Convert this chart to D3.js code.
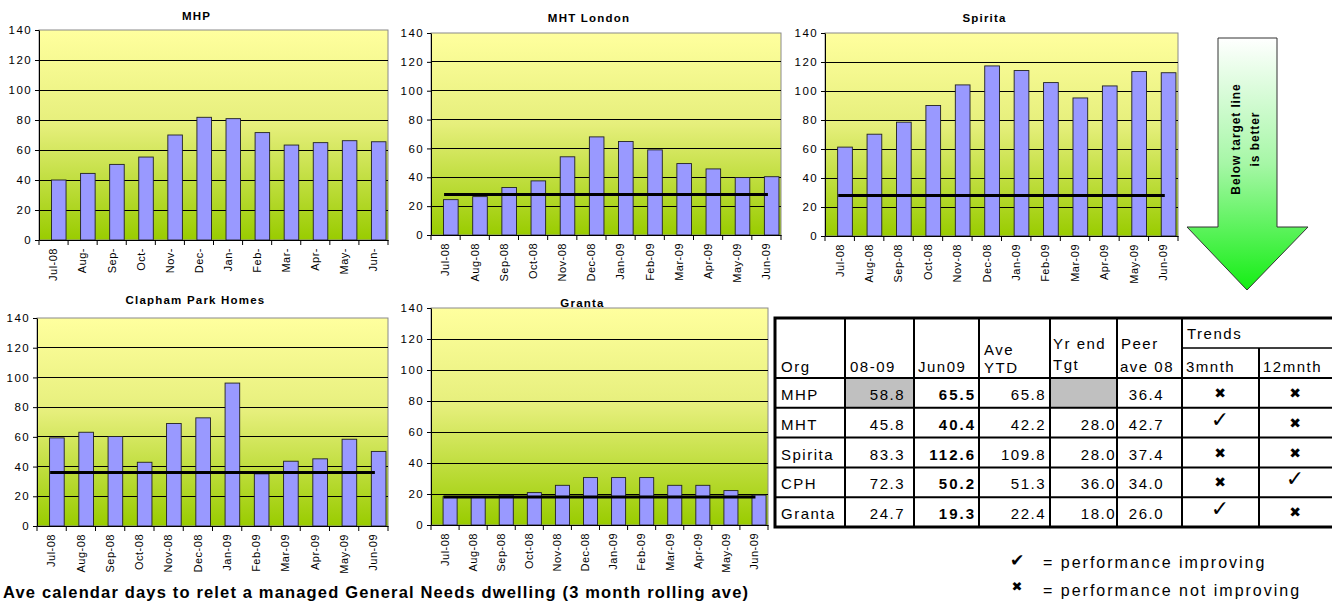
<!DOCTYPE html>
<html lang="en">
<head>
<meta charset="UTF-8">
<title>Relet days</title>
<style>
  body { margin: 0; background: #fff; }
  svg text { font-family: "Liberation Sans", Arial, sans-serif; fill: #000; }
</style>
</head>
<body>
<div class="container"></div>
<script src="https://cdn.jsdelivr.net/npm/d3@7/dist/d3.min.js"></script>
<script>
// Data
const months = ["Jul-08","Aug-08","Sep-08","Oct-08","Nov-08","Dec-08","Jan-09","Feb-09","Mar-09","Apr-09","May-09","Jun-09"]
const mhpLabels = ["Jul-08","Aug-","Sep-","Oct-","Nov-","Dec-","Jan-","Feb-","Mar-","Apr-","May-","Jun-"]
const yTicks = [0,20,40,60,80,100,120,140]

const mhpValues     = [40, 44.4, 50.4, 55.3, 70, 81.8, 80.9, 71.6, 63.3, 64.9, 66.2, 65.5]
const mhtValues     = [24.5, 26.6, 32.9, 37.5, 54.2, 68, 64.8, 59, 49.5, 45.8, 39.8, 40.4]
const spiritaValues = [61.3, 70.2, 78.5, 90, 104.2, 117.3, 114.1, 105.8, 95.2, 103.5, 113.4, 112.6]
const cphValues     = [59.3, 63.1, 60.2, 42.9, 69, 72.8, 96.2, 35.1, 43.6, 45.2, 58.4, 50.2]
const grantaValues  = [18.3, 17.9, 19.2, 20.9, 25.6, 30.6, 30.6, 30.6, 25.6, 25.6, 22.2, 19.3]

const chartTitles = ["MHP", "MHT London", "Spirita", "Clapham Park Homes", "Granta"]
const targetValues = [null, 28, 28, 36, 18]

// table data
const tableOrgs  = ["MHP","MHT","Spirita","CPH","Granta"]
const col0809    = ["58.8","45.8","83.3","72.3","24.7"]
const colJun09   = ["65.5","40.4","112.6","50.2","19.3"]
const colAveYtd  = ["65.8","42.2","109.8","51.3","22.4"]
const colYrTgt   = [null,"28.0","28.0","36.0","18.0"]
const colPeer    = ["36.4","42.7","37.4","34.0","26.0"]
const trend3     = [false,true,false,false,true]
const trend12    = [false,false,false,true,false]

const width = 1332
const height = 605

const svg = d3.select('.container')
    .append("svg")
    .attr("width", width)
    .attr("height", height)

const defs = svg.append("defs")

const bg = defs.append("linearGradient")
    .attr("id", "plotBg")
    .attr("x1", 0).attr("y1", 0).attr("x2", 0).attr("y2", 1)
bg.append("stop").attr("offset", "0%").attr("stop-color", "#ffff9e")
bg.append("stop").attr("offset", "45%").attr("stop-color", "#e6ef7c")
bg.append("stop").attr("offset", "100%").attr("stop-color", "#99cc00")

const arrowBg = defs.append("linearGradient")
    .attr("id", "arrowBg")
    .attr("x1", 0).attr("y1", 0).attr("x2", 0).attr("y2", 1)
arrowBg.append("stop").attr("offset", "0%").attr("stop-color", "#ffffff")
arrowBg.append("stop").attr("offset", "50%").attr("stop-color", "#a6f7a6")
arrowBg.append("stop").attr("offset", "100%").attr("stop-color", "#14ee14")

// plot boxes: [left, right, top, bottom], title baseline
const charts = [
    { title: chartTitles[0], labels: mhpLabels, values: mhpValues, target: targetValues[0], box: [39, 388, 30, 240], titleY: 20 },
    { title: chartTitles[1], labels: months, values: mhtValues, target: targetValues[1], box: [431, 781, 33, 235], titleY: 22 },
    { title: chartTitles[2], labels: months, values: spiritaValues, target: targetValues[2], box: [825, 1178, 33, 236], titleY: 22 },
    { title: chartTitles[3], labels: months, values: cphValues, target: targetValues[3], box: [37, 388, 318, 526], titleY: 304 },
    { title: chartTitles[4], labels: months, values: grantaValues, target: targetValues[4], box: [431, 768, 308, 525], titleY: 307 }
]

charts.forEach(drawChart)

function drawChart(c) {
    const [x0, x1, y0, y1] = c.box
    const g = svg.append("g").attr("class", "chart")

    const xScale = d3.scaleBand()
        .domain(c.labels)
        .range([x0, x1])
        .paddingInner(0).paddingOuter(0)
    const yScale = d3.scaleLinear()
        .domain([0, 140])
        .range([y1, y0])

    // background + border
    g.append("rect")
        .attr("x", x0).attr("y", y0)
        .attr("width", x1 - x0).attr("height", y1 - y0)
        .attr("fill", "url(#plotBg)")
        .attr("stroke", "#8a8a8a")
        .attr("stroke-width", 1)

    // grid lines
    g.append("g").selectAll("line")
        .data(yTicks.filter(d => d > 0 && d < 140))
        .join("line")
        .attr("x1", x0).attr("x2", x1)
        .attr("y1", d => yScale(d)).attr("y2", d => yScale(d))
        .attr("stroke", "#000")
        .attr("stroke-width", 1)
        .attr("shape-rendering", "crispEdges")

    // bars
    const bw = xScale.bandwidth()
    g.append("g").selectAll("rect")
        .data(c.values)
        .join("rect")
        .attr("x", (d, i) => xScale(c.labels[i]) + bw * 0.43)
        .attr("width", bw * 0.5)
        .attr("y", d => yScale(d))
        .attr("height", d => yScale(0) - yScale(d))
        .attr("fill", "#9999ff")
        .attr("stroke", "#222")
        .attr("stroke-width", 0.9)

    // target line
    if (c.target != null) {
        const first = c.labels[0], last = c.labels[c.labels.length - 1]
        g.append("line")
            .attr("x1", xScale(first) + bw / 2)
            .attr("x2", xScale(last) + bw / 2)
            .attr("y1", yScale(c.target)).attr("y2", yScale(c.target))
            .attr("stroke", "#000")
            .attr("stroke-width", 3)
            .attr("stroke-linecap", "square")
    }

    // left axis
    const leftAxis = d3.axisLeft(yScale)
        .tickValues(yTicks)
        .tickSize(4)
        .tickSizeOuter(0)
        .tickPadding(3)
    const la = g.append("g")
        .attr("transform", `translate(${x0},0)`)
        .call(leftAxis)
    la.selectAll("text")
        .style("font-size", "11.5px")
        .style("letter-spacing", "1.4px")
        .style("font-family", '"Liberation Sans", Arial, sans-serif')
        .attr("fill", "#000")

    // bottom axis (labels at centres)
    const bottomAxis = d3.axisBottom(xScale).tickSize(0).tickSizeOuter(0)
    const ba = g.append("g")
        .attr("transform", `translate(0,${y1})`)
        .call(bottomAxis)
    ba.select(".domain").attr("stroke", "#000")
    ba.selectAll("text")
        .attr("transform", "rotate(-90)")
        .attr("text-anchor", "end")
        .attr("x", -8)
        .attr("y", 0)
        .attr("dy", "0.35em")
        .style("font-size", "11px")
        .style("letter-spacing", "0.5px")
        .style("font-family", '"Liberation Sans", Arial, sans-serif')
        .attr("fill", "#000")

    // tick marks at category boundaries
    ba.append("g").selectAll("line")
        .data(d3.range(c.labels.length + 1))
        .join("line")
        .attr("x1", i => x0 + i * xScale.step())
        .attr("x2", i => x0 + i * xScale.step())
        .attr("y1", 0).attr("y2", 5)
        .attr("stroke", "#000")

    // title
    g.append("text")
        .attr("x", (x0 + x1) / 2 - 17)
        .attr("y", c.titleY)
        .attr("text-anchor", "middle")
        .style("font-size", "11.5px")
        .style("font-weight", "bold")
        .style("letter-spacing", "1.2px")
        .text(c.title)
}

// arrow "Below target line is better"
const arrow = svg.append("g").attr("class", "arrow")
arrow.append("path")
    .attr("d", "M1218,38 L1277,38 L1277,227 L1308,227 L1247,290 L1187,227 L1218,227 Z")
    .attr("fill", "url(#arrowBg)")
    .attr("stroke", "#333")
    .attr("stroke-width", 1)
const arrowText = arrow.append("text")
    .attr("transform", "translate(1240,139) rotate(-90)")
    .attr("text-anchor", "middle")
    .style("font-size", "12px")
    .style("font-weight", "bold")
    .style("letter-spacing", "0.9px")
arrowText.append("tspan").attr("x", 0).attr("y", 0).text("Below target line")
arrowText.append("tspan").attr("x", 0).attr("y", 19).text("is better")

// bottom caption
svg.append("text")
    .attr("x", 3)
    .attr("y", 598)
    .attr("textLength", 745)
    .attr("lengthAdjust", "spacing")
    .style("font-size", "16.5px")
    .style("font-weight", "bold")
    .text("Ave calendar days to relet a managed General Needs dwelling (3 month rolling ave)")

// table
const colX = [775, 845, 914, 979, 1050, 1117, 1182, 1259, 1334]
const tTop = 318, tHead = 378, rowH = 29.8
const tBottom = tHead + rowH * tableOrgs.length
const table = svg.append("g").attr("class", "table")
const rowY = i => tHead + i * rowH
const tFont = "15px", tSpace = "1.5px"

// grey cells
tableOrgs.forEach((o, i) => {
    if (i === 0) {
        table.append("rect").attr("x", colX[1]).attr("y", rowY(0))
            .attr("width", colX[2] - colX[1]).attr("height", rowH).attr("fill", "#c0c0c0")
    }
    if (colYrTgt[i] == null) {
        table.append("rect").attr("x", colX[4]).attr("y", rowY(i))
            .attr("width", colX[5] - colX[4]).attr("height", rowH).attr("fill", "#c0c0c0")
    }
})

// lines
const hLines = d3.range(tableOrgs.length + 1).map(rowY)
table.selectAll(".hl").data(hLines).join("line")
    .attr("x1", colX[0]).attr("x2", colX[8])
    .attr("y1", d => d).attr("y2", d => d)
    .attr("stroke", "#000").attr("stroke-width", 2)
table.append("line").attr("x1", colX[6]).attr("x2", colX[8])
    .attr("y1", 348).attr("y2", 348).attr("stroke", "#000").attr("stroke-width", 1.5)
colX.slice(1, 8).forEach(x => {
    table.append("line")
        .attr("x1", x).attr("x2", x)
        .attr("y1", x === colX[7] ? 348 : tTop).attr("y2", tBottom)
        .attr("stroke", "#000").attr("stroke-width", 2)
})
table.append("rect")
    .attr("x", colX[0]).attr("y", tTop)
    .attr("width", colX[8] - colX[0]).attr("height", tBottom - tTop)
    .attr("fill", "none").attr("stroke", "#000").attr("stroke-width", 3)

const hdr = (x, y, t) => table.append("text").attr("x", x).attr("y", y)
    .style("font-size", tFont).style("letter-spacing", tSpace).text(t)
hdr(781, 372, "Org")
hdr(850, 372, "08-09")
hdr(918, 372, "Jun09")
hdr(984, 355, "Ave")
hdr(984, 373, "YTD")
hdr(1053, 349, "Yr end")
hdr(1053, 370, "Tgt")
hdr(1121, 349, "Peer")
hdr(1120, 372, "ave 08")
hdr(1187, 339, "Trends")
hdr(1186, 372, "3mnth")
hdr(1263, 372, "12mnth")

const cols = [
    { vals: col0809, x: 905, bold: false },
    { vals: colJun09, x: 976, bold: true },
    { vals: colAveYtd, x: 1046, bold: false },
    { vals: colYrTgt, x: 1116, bold: false },
    { vals: colPeer, x: 1164, bold: false }
]
tableOrgs.forEach((o, i) => {
    const by = rowY(i) + 22
    table.append("text").attr("x", 781).attr("y", by)
        .style("font-size", tFont).style("letter-spacing", tSpace).text(o)
    cols.forEach(c => {
        if (c.vals[i] == null) return
        table.append("text").attr("x", c.x).attr("y", by)
            .attr("text-anchor", "end")
            .style("font-size", tFont)
            .style("font-weight", c.bold ? "bold" : "normal")
            .style("letter-spacing", c.bold ? "2px" : tSpace)
            .text(c.vals[i])
    })
    ;[[trend3[i], 1220], [trend12[i], 1295]].forEach(([ok, cx]) => {
        table.append("text").attr("x", cx)
            .attr("y", ok ? rowY(i) + 19 : rowY(i) + 20)
            .attr("text-anchor", "middle")
            .style("font-family", '"DejaVu Sans", sans-serif')
            .style("font-size", ok ? "22px" : "14px")
            .text(ok ? "\u2713" : "\u2716")
    })
})

// legend
const legend = svg.append("g").attr("class", "legend")
legend.append("text").attr("x", 1017).attr("y", 566).attr("text-anchor", "middle")
    .style("font-family", '"DejaVu Sans", sans-serif').style("font-size", "17px").text("\u2714")
legend.append("text").attr("x", 1043).attr("y", 568)
    .style("font-size", "16px").style("letter-spacing", "2px").text("= performance improving")
legend.append("text").attr("x", 1017).attr("y", 591).attr("text-anchor", "middle")
    .style("font-family", '"DejaVu Sans", sans-serif').style("font-size", "13px").text("\u2716")
legend.append("text").attr("x", 1043).attr("y", 596)
    .style("font-size", "16px").style("letter-spacing", "2px").text("= performance not improving")
</script>
</body>
</html>
